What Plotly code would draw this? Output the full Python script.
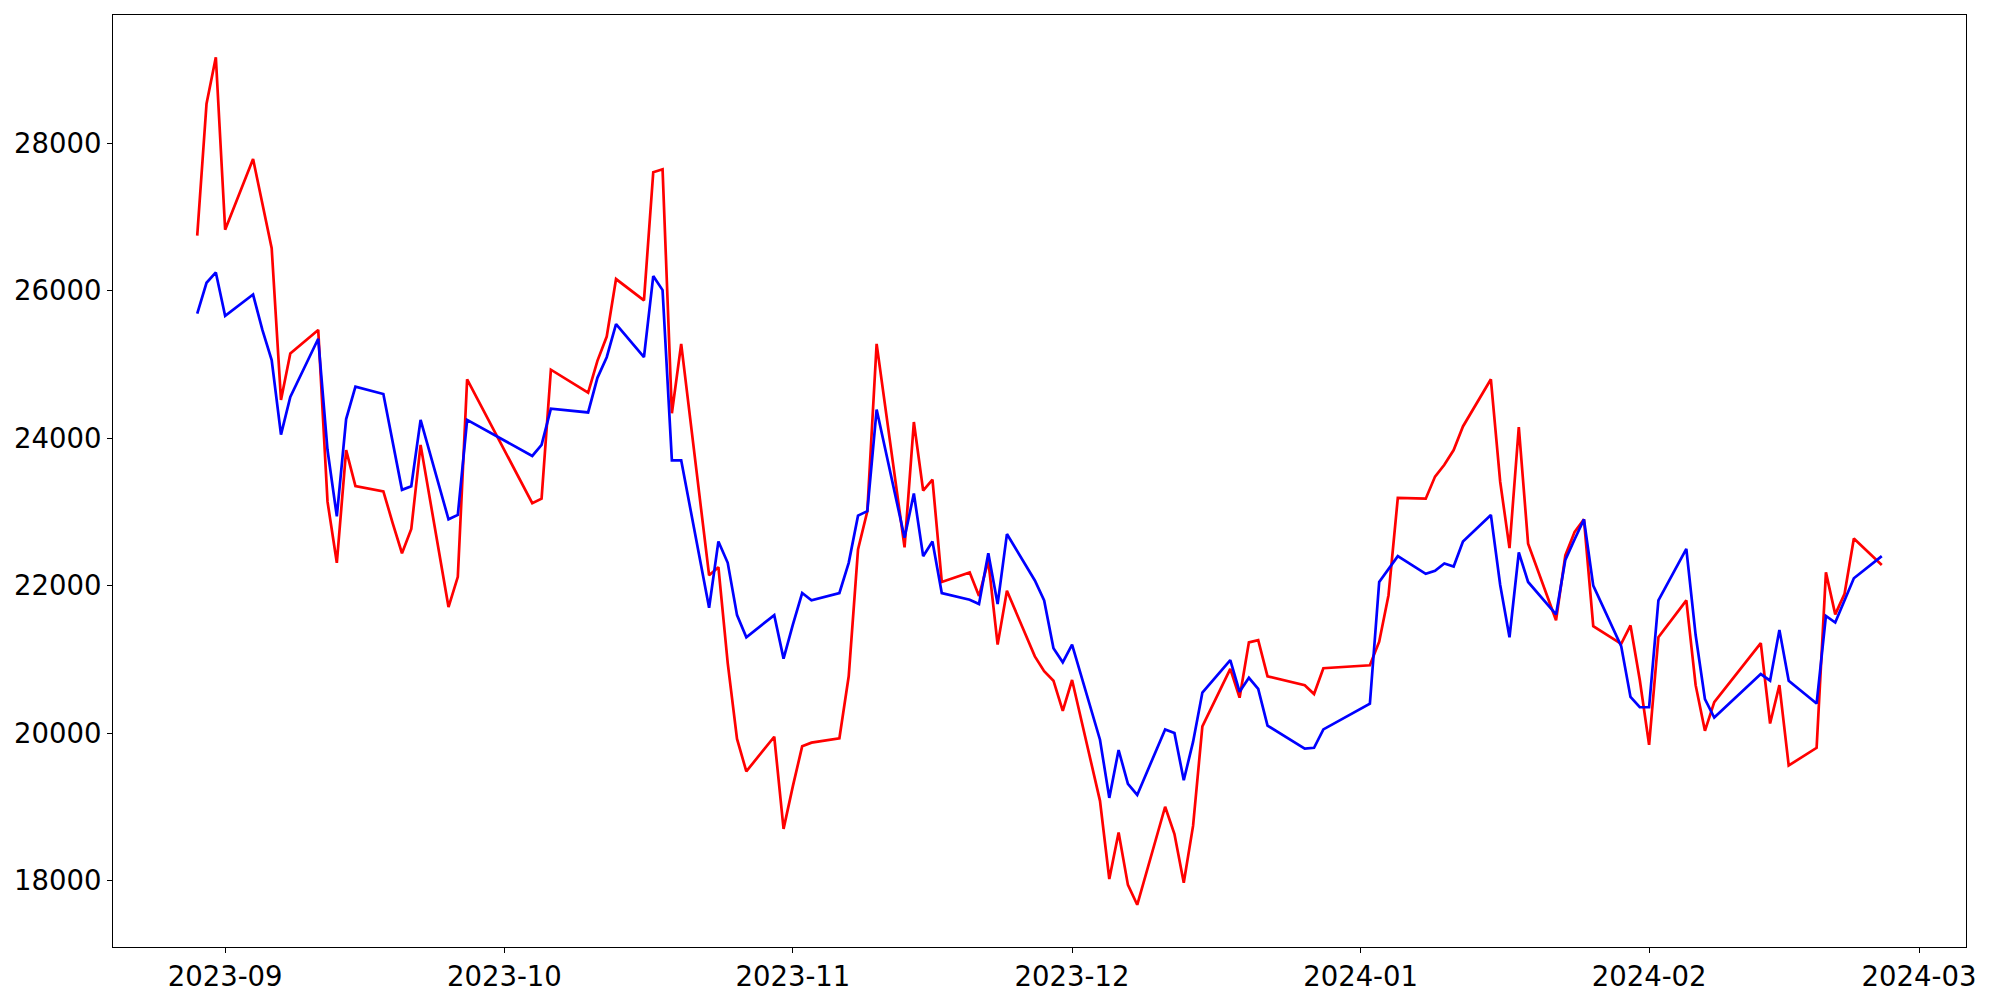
import plotly.graph_objects as go

dates = [
    "2023-08-29", "2023-08-30", "2023-08-31",
    "2023-09-01", "2023-09-04", "2023-09-05", "2023-09-06", "2023-09-07", "2023-09-08",
    "2023-09-11", "2023-09-12", "2023-09-13", "2023-09-14", "2023-09-15",
    "2023-09-18", "2023-09-19", "2023-09-20", "2023-09-21", "2023-09-22",
    "2023-09-25", "2023-09-26", "2023-09-27",
    "2023-10-04", "2023-10-05", "2023-10-06", "2023-10-10", "2023-10-11", "2023-10-12", "2023-10-13",
    "2023-10-16", "2023-10-17", "2023-10-18", "2023-10-19", "2023-10-20",
    "2023-10-23", "2023-10-24", "2023-10-25", "2023-10-26", "2023-10-27", "2023-10-30", "2023-10-31",
    "2023-11-01", "2023-11-02", "2023-11-03", "2023-11-06", "2023-11-07", "2023-11-08", "2023-11-09", "2023-11-10",
    "2023-11-13", "2023-11-14", "2023-11-15", "2023-11-16", "2023-11-17",
    "2023-11-20", "2023-11-21", "2023-11-22", "2023-11-23", "2023-11-24",
    "2023-11-27", "2023-11-28", "2023-11-29", "2023-11-30",
    "2023-12-01", "2023-12-04", "2023-12-05", "2023-12-06", "2023-12-07", "2023-12-08",
    "2023-12-11", "2023-12-12", "2023-12-13", "2023-12-14", "2023-12-15",
    "2023-12-18", "2023-12-19", "2023-12-20", "2023-12-21", "2023-12-22",
    "2023-12-26", "2023-12-27", "2023-12-28",
    "2024-01-02", "2024-01-03", "2024-01-04", "2024-01-05",
    "2024-01-08", "2024-01-09", "2024-01-10", "2024-01-11", "2024-01-12",
    "2024-01-15", "2024-01-16", "2024-01-17", "2024-01-18", "2024-01-19",
    "2024-01-22", "2024-01-23", "2024-01-24", "2024-01-25", "2024-01-26",
    "2024-01-29", "2024-01-30", "2024-01-31",
    "2024-02-01", "2024-02-02", "2024-02-05", "2024-02-06", "2024-02-07", "2024-02-08",
    "2024-02-13", "2024-02-14", "2024-02-15", "2024-02-16",
    "2024-02-19", "2024-02-20", "2024-02-21", "2024-02-22", "2024-02-23", "2024-02-26",
]

red_values = [
    26750, 28540, 29170,
    26830, 27790, 27180, 26580, 24520, 25150,
    25470, 23140, 22310, 23840, 23350,
    23280, 22850, 22440, 22770, 23910,
    21710, 22120, 24800,
    23120, 23180, 24930, 24620, 25050, 25380, 26160,
    25870, 27610, 27650, 24340, 25280,
    22140, 22250, 20950, 19920, 19480, 19950, 18700,
    19280, 19820, 19870, 19930, 20770, 22490, 23010, 25280,
    22520, 24220, 23290, 23440, 22050,
    22180, 21860, 22340, 21200, 21930,
    21040, 20840, 20710, 20300,
    20720, 19080, 18020, 18650, 17940, 17670,
    19000, 18630, 17970, 18740, 20090,
    20870, 20480, 21230, 21260, 20770,
    20650, 20530, 20880,
    20920, 21240, 21870, 23190,
    23180, 23480, 23640, 23840, 24160,
    24800, 23410, 22510, 24150, 22570,
    21530, 22410, 22730, 22900, 21450,
    21210, 21460, 20720,
    19840, 21300, 21800, 20650, 20030, 20420,
    21220, 20130, 20650, 19560,
    19800, 22180, 21610, 21890, 22640, 22280,
]

blue_values = [
    25690, 26110, 26250,
    25660, 25950, 25470, 25060, 24050, 24560,
    25350, 23840, 22940, 24260, 24700,
    24600, 23950, 23300, 23350, 24250,
    22900, 22960, 24250,
    23760, 23910, 24400, 24350, 24820, 25100, 25550,
    25100, 26200, 26010, 23700, 23700,
    21700, 22600, 22310, 21600, 21300, 21600, 21010,
    21470, 21900, 21800, 21900, 22310, 22950, 23010, 24390,
    22650, 23250, 22400, 22600, 21900,
    21810, 21750, 22440, 21750, 22700,
    22070, 21800, 21150, 20960,
    21200, 19910, 19120, 19770, 19310, 19160,
    20050, 20000, 19360, 19880, 20550,
    20990, 20560, 20750, 20600, 20100,
    19790, 19800, 20050,
    20400, 22050, 22220, 22400,
    22160, 22200, 22300, 22260, 22600,
    22960, 22010, 21300, 22450, 22050,
    21610, 22350, 22630, 22900, 22000,
    21180, 20490, 20350,
    20350, 21800, 22500, 21330, 20460, 20210,
    20800, 20710, 21400, 20710,
    20400, 21590, 21500, 21800, 22100, 22400,
]

month_ticks = ["2023-09-01", "2023-10-01", "2023-11-01", "2023-12-01",
               "2024-01-01", "2024-02-01", "2024-03-01"]
month_labels = ["2023-09", "2023-10", "2023-11", "2023-12",
                "2024-01", "2024-02", "2024-03"]
y_ticks = [18000, 20000, 22000, 24000, 26000, 28000]

fig = go.Figure()
fig.add_trace(go.Scatter(x=dates, y=red_values, mode="lines",
                         line=dict(color="#ff0000", width=2.7), showlegend=False))
fig.add_trace(go.Scatter(x=dates, y=blue_values, mode="lines",
                         line=dict(color="#0000ff", width=2.7), showlegend=False))

axis_common = dict(
    showgrid=False, zeroline=False,
    showline=True, linecolor="black", linewidth=1.1, mirror=True,
    ticks="outside", ticklen=5, tickwidth=1.1, tickcolor="black",
    tickfont=dict(family="DejaVu Sans", size=27.5, color="black"),
)

fig.update_layout(
    width=2000, height=1000,
    margin=dict(l=105, r=42, t=7, b=61),
    paper_bgcolor="white", plot_bgcolor="white",
    font=dict(family="DejaVu Sans", size=27.5, color="black"),
    xaxis=dict(
        type="date",
        range=["2023-08-19 22:48", "2024-03-06 01:12"],
        tickmode="array", tickvals=month_ticks, ticktext=month_labels,
        **axis_common,
    ),
    yaxis=dict(
        range=[17097, 29743],
        tickmode="array", tickvals=y_ticks, ticktext=[str(v) for v in y_ticks],
        **axis_common,
    ),
)

fig.write_html("out.html", config={"displayModeBar": False})
